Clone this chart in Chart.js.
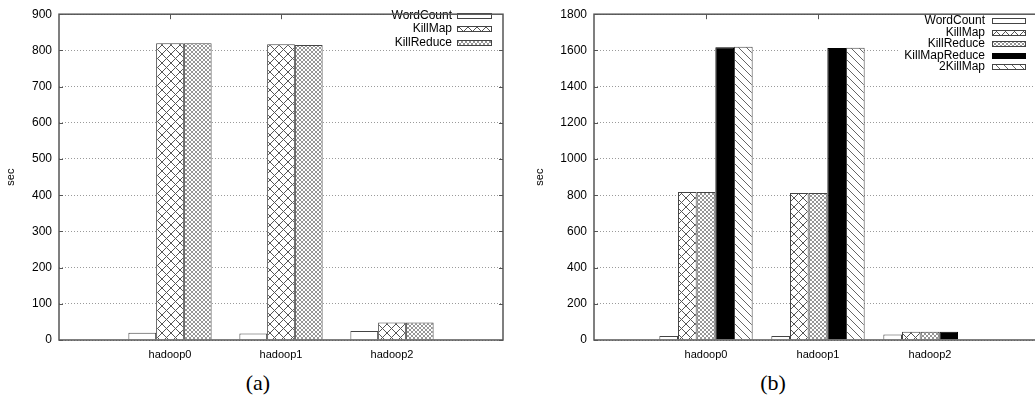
<!DOCTYPE html>
<html>
<head>
<meta charset="utf-8">
<script src="https://cdn.jsdelivr.net/npm/chart.js@4.4.0/dist/chart.umd.min.js"></script>
<style>
html, body { margin: 0; padding: 0; background: #fff; overflow: hidden; width: 1035px; height: 402px; }
#wrapA { position: absolute; left: 0; top: 0; }
#wrapB { position: absolute; left: 515px; top: 0; }
.cap { position: absolute; top: 370px; width: 60px; text-align: center;
       font-family: "Liberation Serif", "Times New Roman", serif; font-size: 22px; }
</style>
</head>
<body>
<div id="wrapA"><canvas id="chartA" width="515" height="370"></canvas></div>
<div id="wrapB"><canvas id="chartB" width="545" height="370"></canvas></div>
<div class="cap" style="left:228px">(a)</div>
<div class="cap" style="left:743px">(b)</div>
<script>
// categories (x axis)
var categories = ['hadoop0', 'hadoop1', 'hadoop2'];

// (a) values, sec
var wordCountA = [20, 18, 25];
var killMapA = [820, 817, 48];
var killReduceA = [820, 815, 48];

// (b) values, sec
var wordCountB = [22, 22, 31];
var killMapB = [818, 812, 46];
var killReduceB = [818, 812, 46];
var killMapReduceB = [1618, 1613, 46];
var twoKillMapB = [1620, 1615, null];

// y axis ticks
var yMaxA = 900, yStepA = 100;
var yMaxB = 1800, yStepB = 200;

var FONT = '"Liberation Sans", Arial, sans-serif';

// fill patterns, gnuplot style
function makePattern(size, color, lw, dirs) {
    var c = document.createElement('canvas');
    c.width = size; c.height = size;
    var g = c.getContext('2d');
    g.fillStyle = '#fff';
    g.fillRect(0, 0, size, size);
    g.strokeStyle = color;
    g.lineWidth = lw;
    [-size, 0, size].forEach(function (d) {
        g.beginPath();
        if (dirs.indexOf('\\') >= 0) { g.moveTo(d - 1, -1); g.lineTo(d + size + 1, size + 1); }
        if (dirs.indexOf('/') >= 0) { g.moveTo(d - 1, size + 1); g.lineTo(d + size + 1, -1); }
        g.stroke();
    });
    return g.createPattern(c, 'repeat');
}

var pat = {
    empty: '#fff',
    cross: makePattern(9, '#555', 1, '/\\'),
    dense: makePattern(4, '#8a8a8a', 0.9, '/\\'),
    solid: '#000',
    diag: makePattern(8, '#666', 1, '\\')
};

function series(label, values, fill, border) {
    return {
        label: label,
        data: values.map(function (v, i) { return { x: i, y: v }; }),
        backgroundColor: fill,
        borderColor: border || '#444',
        borderWidth: 1,
        borderSkipped: 'start'
    };
}

// frame, mirrored tics and the opaque key
var gnuplotFrame = {
    id: 'gnuplotFrame',
    afterDatasetsDraw: function (chart, args, opts) {
        var ctx = chart.ctx, a = chart.chartArea;
        var xs = chart.scales.x, ys = chart.scales.y;
        ctx.save();

        ctx.strokeStyle = '#555';
        ctx.lineWidth = 1;
        ctx.beginPath();
        categories.forEach(function (c, i) {
            var x = Math.round(xs.getPixelForValue(i)) + 0.5;
            ctx.moveTo(x, a.top); ctx.lineTo(x, a.top + 5);
        });
        ys.ticks.forEach(function (t) {
            var y = Math.round(ys.getPixelForValue(t.value)) + 0.5;
            ctx.moveTo(a.left, y); ctx.lineTo(a.left + 4, y);
            ctx.moveTo(a.right - 4, y); ctx.lineTo(a.right, y);
        });
        ctx.stroke();

        var k = opts.key;
        ctx.fillStyle = '#fff';
        ctx.fillRect(k.x, k.y, k.w, k.h);
        ctx.font = '12px ' + FONT;
        ctx.textAlign = 'right';
        ctx.textBaseline = 'middle';
        chart.data.datasets.forEach(function (ds, i) {
            var y = Math.round(k.top + i * k.step);
            ctx.fillStyle = '#000';
            ctx.fillText(ds.label, k.textRight, y);
            ctx.fillStyle = ds.backgroundColor;
            ctx.fillRect(k.sx, y - 2, k.sw, 5);
            ctx.strokeStyle = ds.borderColor;
            ctx.lineWidth = 1;
            ctx.strokeRect(k.sx + 0.5, y - 2.5, k.sw, 5);
        });

        ctx.strokeStyle = '#555';
        ctx.lineWidth = 1.5;
        ctx.strokeRect(a.left, a.top, a.right - a.left, a.bottom - a.top);
        ctx.restore();
    }
};

function makeOptions(yMax, yStep, yWidth, padding, key) {
    return {
        responsive: false,
        animation: false,
        layout: { padding: padding },
        datasets: { bar: { categoryPercentage: 1, barPercentage: 1 } },
        plugins: {
            legend: { display: false },
            tooltip: { enabled: false },
            gnuplotFrame: { key: key }
        },
        scales: {
            x: {
                type: 'linear',
                min: -1,
                max: 3,
                offset: false,
                grid: { display: false, drawTicks: false },
                border: { display: false },
                ticks: {
                    stepSize: 1,
                    padding: 8,
                    color: '#000',
                    font: { family: FONT, size: 11 },
                    callback: function (v) { return categories[v] || ''; }
                },
                afterFit: function (s) { s.height = 30; }
            },
            y: {
                min: 0,
                max: yMax,
                grid: { color: '#9a9a9a', lineWidth: 1, drawTicks: false },
                border: { display: false, dash: [1, 2] },
                ticks: {
                    stepSize: yStep,
                    padding: 7,
                    color: '#000',
                    font: { family: FONT, size: 12 },
                    callback: function (v) { return String(v); }
                },
                title: {
                    display: true,
                    text: 'sec',
                    color: '#000',
                    font: { family: FONT, size: 11 }
                },
                afterFit: function (s) { s.width = yWidth; }
            }
        }
    };
}

var optsA = makeOptions(yMaxA, yStepA, 59, { left: 0, right: 12, top: 8, bottom: 0 },
    { x: 385, y: 9, w: 117, h: 40, top: 16, step: 13.3, textRight: 452, sx: 457, sw: 34 });
optsA.datasets.bar.categoryPercentage = 0.75;

new Chart(document.getElementById('chartA').getContext('2d'), {
    type: 'bar',
    data: {
        datasets: [
            series('WordCount', wordCountA, pat.empty),
            series('KillMap', killMapA, pat.cross),
            series('KillReduce', killReduceA, pat.dense)
        ]
    },
    options: optsA,
    plugins: [gnuplotFrame]
});

var optsB = makeOptions(yMaxB, yStepB, 65, { left: 14, right: 18, top: 11, bottom: 0 },
    { x: 385, y: 12, w: 145, h: 62, top: 21, step: 11.5, textRight: 470, sx: 477, sw: 33 });
optsB.datasets.bar.categoryPercentage = 5 / 6;

new Chart(document.getElementById('chartB').getContext('2d'), {
    type: 'bar',
    data: {
        datasets: [
            series('WordCount', wordCountB, pat.empty),
            series('KillMap', killMapB, pat.cross),
            series('KillReduce', killReduceB, pat.dense),
            series('KillMapReduce', killMapReduceB, pat.solid, '#000'),
            series('2KillMap', twoKillMapB, pat.diag)
        ]
    },
    options: optsB,
    plugins: [gnuplotFrame]
});
</script>
</body>
</html>
